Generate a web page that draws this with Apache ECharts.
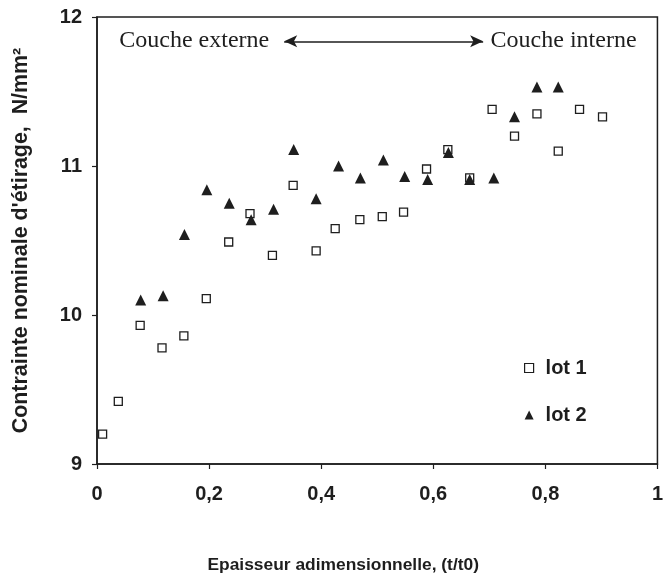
<!DOCTYPE html>
<html>
<head>
<meta charset="utf-8">
<script src="https://cdn.jsdelivr.net/npm/echarts@6/dist/echarts.min.js"></script>
<style>
  html, body { margin: 0; padding: 0; background: #fff; }
  #chart { width: 666px; height: 579px; }
</style>
</head>
<body>
<div id="chart"></div>
<script>
// Thickness ratio (t/t0) for each measurement, and nominal stretching stress (N/mm²)
const lot1X = [0.010, 0.038, 0.077, 0.116, 0.155, 0.195, 0.235, 0.273, 0.313, 0.350, 0.391, 0.425,
               0.469, 0.509, 0.547, 0.588, 0.626, 0.665, 0.705, 0.745, 0.785, 0.823, 0.861, 0.902];
const lot1Y = [9.20, 9.42, 9.93, 9.78, 9.86, 10.11, 10.49, 10.68, 10.40, 10.87, 10.43, 10.58,
               10.64, 10.66, 10.69, 10.98, 11.11, 10.92, 11.38, 11.20, 11.35, 11.10, 11.38, 11.33];

const lot2X = [0.078, 0.118, 0.156, 0.196, 0.236, 0.275, 0.315, 0.351, 0.391, 0.431, 0.470, 0.511,
               0.549, 0.590, 0.627, 0.665, 0.708, 0.745, 0.785, 0.823];
const lot2Y = [10.10, 10.13, 10.54, 10.84, 10.75, 10.64, 10.71, 11.11, 10.78, 11.00, 10.92, 11.04,
               10.93, 10.91, 11.09, 10.91, 10.92, 11.33, 11.53, 11.53];

const xTicks = [0, 0.2, 0.4, 0.6, 0.8, 1];
const yTicks = [9, 10, 11, 12];

const seriesNames = ['lot 1', 'lot 2'];
const xTitle = 'Epaisseur adimensionnelle, (t/t0)';
const yTitle = "Contrainte nominale d'étirage,  N/mm²";

// Layer direction annotation: outer layer <-> inner layer
const layerArrow = { from: [0.334, 11.837], to: [0.689, 11.837] };
const layerLabels = [
  { text: 'Couche externe', at: [0.1735, 11.84] },
  { text: 'Couche interne', at: [0.8325, 11.84] }
];

const ink = '#1e1e1e';
const pair = (xs, ys) => xs.map((x, i) => [x, ys[i]]);

const chart = echarts.init(document.getElementById('chart'), null, { renderer: 'canvas' });

chart.setOption({
  animation: false,
  backgroundColor: '#fff',
  grid: {
    left: 97, right: 3, top: 17, bottom: 115,
    show: true, borderColor: ink, borderWidth: 1.5, backgroundColor: 'transparent'
  },
  legend: {
    orient: 'vertical',
    left: 519, top: 353,
    itemGap: 27,
    itemWidth: 9, itemHeight: 9,
    data: [
      { name: seriesNames[0], icon: 'rect', itemStyle: { color: '#fff', borderColor: ink, borderWidth: 1.2 } },
      { name: seriesNames[1], icon: 'triangle', itemStyle: { color: ink } }
    ],
    textStyle: { fontFamily: 'Liberation Sans', fontWeight: 'bold', fontSize: 20, color: ink, padding: [0, 0, 0, 7] }
  },
  xAxis: {
    type: 'value',
    min: 0, max: 1, interval: 0.2,
    name: xTitle,
    nameLocation: 'middle',
    nameGap: 93,
    nameTextStyle: {
      fontFamily: 'Liberation Sans', fontWeight: 'bold', fontSize: 17.4, color: ink,
      padding: [0, 68, 0, 0]
    },
    axisLine: { show: true, lineStyle: { color: ink, width: 1.5 } },
    axisTick: { show: true, inside: false, length: 5, lineStyle: { color: ink, width: 1.2 } },
    axisLabel: {
      margin: 20,
      fontFamily: 'Liberation Sans', fontWeight: 'bold', fontSize: 20, color: ink,
      formatter: v => {
        const t = xTicks.find(k => Math.abs(k - v) < 1e-9);
        return t === undefined ? '' : String(t).replace('.', ',');
      }
    },
    splitLine: { show: false }
  },
  yAxis: {
    type: 'value',
    min: 9, max: 12, interval: 1,
    name: yTitle,
    nameLocation: 'middle',
    nameGap: 65,
    nameTextStyle: { fontFamily: 'Liberation Sans', fontWeight: 'bold', fontSize: 21.4, color: ink },
    axisLine: { show: true, lineStyle: { color: ink, width: 1.5 } },
    axisTick: { show: true, inside: false, length: 5, lineStyle: { color: ink, width: 1.2 } },
    axisLabel: {
      margin: 15,
      fontFamily: 'Liberation Sans', fontWeight: 'bold', fontSize: 20, color: ink,
      formatter: v => (yTicks.includes(v) ? String(v) : '')
    },
    splitLine: { show: false }
  },
  series: [
    {
      name: seriesNames[0],
      type: 'scatter',
      symbol: 'rect',
      symbolSize: 8,
      itemStyle: { color: '#fff', borderColor: ink, borderWidth: 1.3, opacity: 1 },
      data: pair(lot1X, lot1Y),
      z: 3
    },
    {
      name: seriesNames[1],
      type: 'scatter',
      symbol: 'triangle',
      symbolSize: [11, 11],
      itemStyle: { color: ink, opacity: 1 },
      data: pair(lot2X, lot2Y),
      z: 4,
      markLine: {
        silent: true,
        symbol: ['arrow', 'arrow'],
        symbolSize: [9, 13],
        lineStyle: { color: ink, width: 1.5, type: 'solid' },
        label: { show: false },
        data: [[{ coord: layerArrow.from }, { coord: layerArrow.to }]]
      }
    }
  ]
});

// Serif captions for the two layers, placed in data space
chart.setOption({
  graphic: layerLabels.map(l => {
    const p = chart.convertToPixel({ gridIndex: 0 }, l.at);
    return {
      type: 'text',
      x: p[0], y: p[1],
      style: {
        text: l.text,
        font: '24px "Liberation Serif"',
        fill: ink,
        align: 'center',
        verticalAlign: 'middle'
      }
    };
  })
});
</script>
</body>
</html>
